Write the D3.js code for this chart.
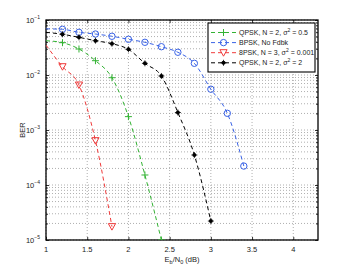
<!DOCTYPE html>
<html>
<head>
<meta charset="utf-8">
<script src="https://d3js.org/d3.v7.min.js"></script>
<style>
  body { margin: 0; background: #fff; }
  text { font-family: "Liberation Sans", Arial, sans-serif; }
</style>
</head>
<body>
<script>
// data (Eb/N0 in dB, BER)
var snrQpsk05 = [1.0, 1.2, 1.4, 1.6, 1.8, 2.0, 2.2, 2.4];
var berQpsk05 = [0.042, 0.0387, 0.0297, 0.0182, 0.00893, 0.00175, 1.52e-4, 1.0e-5];
var snrBpsk = [1.0, 1.2, 1.4, 1.6, 1.8, 2.0, 2.2, 2.4, 2.6, 2.8, 3.0, 3.2, 3.4];
var berBpsk = [0.069, 0.0678, 0.0597, 0.0556, 0.0506, 0.0446, 0.0393, 0.0327, 0.0259, 0.0163, 0.00552, 0.00201, 2.21e-4];
var snrBpsk3 = [1.0, 1.2, 1.4, 1.6, 1.8];
var berBpsk3 = [0.035, 0.01416, 0.00658, 6.4e-4, 1.75e-5];
var snrQpsk2 = [1.0, 1.2, 1.4, 1.6, 1.8, 2.0, 2.2, 2.4, 2.6, 2.8, 3.0];
var berQpsk2 = [0.0597, 0.055, 0.0484, 0.0421, 0.0371, 0.0293, 0.0163, 0.0096, 0.00208, 3.51e-4, 2.21e-5];

var xTicks = [1, 1.5, 2, 2.5, 3, 3.5, 4];
var yTicks = [1e-5, 1e-4, 1e-3, 1e-2, 1e-1];

var W = 351, H = 271;
var margin = {top: 20, right: 33, bottom: 31, left: 46};

var svg = d3.select("body").append("svg")
  .attr("width", W).attr("height", H);

var x = d3.scaleLinear().domain([1, 4.3]).range([margin.left, W - margin.right]);
var y = d3.scaleLog().domain([1e-5, 1e-1]).range([H - margin.bottom, margin.top]);

// minor log positions
var yMinor = [];
for (var e = -5; e < -1; e++) {
  for (var k = 2; k <= 9; k++) yMinor.push(k * Math.pow(10, e));
}

// grid
var grid = svg.append("g").attr("stroke", "#9a9a9a").attr("stroke-width", 0.8)
  .attr("stroke-dasharray", "1,2");
yMinor.concat(yTicks).forEach(function(v) {
  grid.append("line").attr("x1", x(1)).attr("x2", x(4.3))
    .attr("y1", y(v)).attr("y2", y(v));
});
xTicks.forEach(function(v) {
  grid.append("line").attr("x1", x(v)).attr("x2", x(v))
    .attr("y1", y(1e-5)).attr("y2", y(1e-1));
});

// axes, ticks inside
var tl = 3;
var yLeft = d3.axisLeft(y).tickValues(yTicks).tickSize(-tl).tickFormat("");
var yLeftMinor = d3.axisLeft(y).tickValues(yMinor).tickSize(-2).tickFormat("");
var yRight = d3.axisRight(y).tickValues(yTicks).tickSize(-tl).tickFormat("");
var yRightMinor = d3.axisRight(y).tickValues(yMinor).tickSize(-2).tickFormat("");
var xBot = d3.axisBottom(x).tickValues(xTicks).tickSize(-tl).tickFormat("");
var xTop = d3.axisTop(x).tickValues(xTicks).tickSize(-tl).tickFormat("");

function addAxis(ax, tr) {
  var g = svg.append("g").attr("transform", tr).call(ax);
  g.select(".domain").remove();
  g.selectAll("line").attr("stroke", "#000").attr("stroke-width", 0.8);
}
addAxis(yLeft, "translate(" + margin.left + ",0)");
addAxis(yLeftMinor, "translate(" + margin.left + ",0)");
addAxis(yRight, "translate(" + (W - margin.right) + ",0)");
addAxis(yRightMinor, "translate(" + (W - margin.right) + ",0)");
addAxis(xBot, "translate(0," + (H - margin.bottom) + ")");
addAxis(xTop, "translate(0," + margin.top + ")");

svg.append("rect")
  .attr("x", margin.left).attr("y", margin.top)
  .attr("width", W - margin.left - margin.right)
  .attr("height", H - margin.top - margin.bottom)
  .attr("fill", "none").attr("stroke", "#000").attr("stroke-width", 1.3);

// tick labels
svg.append("g").selectAll("text").data(xTicks).enter().append("text")
  .attr("x", function(d) { return x(d); })
  .attr("y", H - margin.bottom + 12)
  .attr("text-anchor", "middle")
  .attr("font-size", 7.5).attr("fill", "#222")
  .text(function(d) { return d; });

var yl = svg.append("g").selectAll("text").data(yTicks).enter().append("text")
  .attr("x", margin.left - 6)
  .attr("y", function(d) { return y(d) + 2.5; })
  .attr("text-anchor", "end")
  .attr("font-size", 7.5).attr("fill", "#222");
yl.append("tspan").text("10");
yl.append("tspan").attr("dy", -4).attr("font-size", 5)
  .text(function(d) { return "\u2212" + Math.round(-Math.log10(d)); });

// axis titles
var xl = svg.append("text")
  .attr("x", (margin.left + W - margin.right) / 2)
  .attr("y", H - margin.bottom + 22)
  .attr("text-anchor", "middle")
  .attr("font-size", 7.5).attr("fill", "#222");
xl.append("tspan").text("E");
xl.append("tspan").attr("dy", 2).attr("font-size", 5.5).text("b");
xl.append("tspan").attr("dy", -2).text("/N");
xl.append("tspan").attr("dy", 2).attr("font-size", 5.5).text("0");
xl.append("tspan").attr("dy", -2).text(" (dB)");

svg.append("text")
  .attr("transform", "translate(25," + ((margin.top + H - margin.bottom) / 2) + ") rotate(-90)")
  .attr("text-anchor", "middle")
  .attr("font-size", 7.5).attr("fill", "#222")
  .text("BER");

// series
var series = [
  {name: "QPSK, N = 2, ", sig: "0.5", xs: snrQpsk05, ys: berQpsk05, color: "#33b333", marker: "plus"},
  {name: "BPSK, No Fdbk", sig: null, xs: snrBpsk, ys: berBpsk, color: "#3a63e6", marker: "circle"},
  {name: "8PSK, N = 3, ", sig: "0.001", xs: snrBpsk3, ys: berBpsk3, color: "#f03a3a", marker: "tri"},
  {name: "QPSK, N = 2, ", sig: "2", xs: snrQpsk2, ys: berQpsk2, color: "#000", marker: "star"}
];

var line = d3.line()
  .x(function(d) { return x(d[0]); })
  .y(function(d) { return y(d[1]); })
  .curve(d3.curveMonotoneX);

svg.append("clipPath").attr("id", "clip").append("rect")
  .attr("x", margin.left).attr("y", margin.top)
  .attr("width", W - margin.left - margin.right)
  .attr("height", H - margin.top - margin.bottom);

var plot = svg.append("g").attr("clip-path", "url(#clip)");

function drawMarker(g, type, color, cx, cy) {
  if (type === "plus") {
    g.append("path").attr("d", "M" + (cx - 3.5) + "," + cy + "h7M" + cx + "," + (cy - 3.5) + "v7")
      .attr("stroke", color).attr("stroke-width", 1).attr("fill", "none");
  } else if (type === "circle") {
    g.append("circle").attr("cx", cx).attr("cy", cy).attr("r", 3.2)
      .attr("fill", "none").attr("stroke", color).attr("stroke-width", 1);
  } else if (type === "tri") {
    g.append("path").attr("d", "M" + (cx - 3.6) + "," + (cy - 3) + "L" + (cx + 3.6) + "," + (cy - 3) + "L" + cx + "," + (cy + 3.5) + "Z")
      .attr("fill", "none").attr("stroke", color).attr("stroke-width", 1);
  } else {
    g.append("circle").attr("cx", cx).attr("cy", cy).attr("r", 2)
      .attr("fill", color);
    g.append("path").attr("d", "M" + (cx - 3) + "," + cy + "h6M" + cx + "," + (cy - 3) + "v6")
      .attr("stroke", color).attr("stroke-width", 0.8);
  }
}

series.forEach(function(s) {
  var pts = s.xs.map(function(v, i) { return [v, s.ys[i]]; });
  plot.append("path").datum(pts)
    .attr("d", line)
    .attr("fill", "none").attr("stroke", s.color)
    .attr("stroke-width", 1).attr("stroke-dasharray", "4,3");
  pts.forEach(function(p) {
    if (p[0] > 1) drawMarker(plot, s.marker, s.color, x(p[0]), y(p[1]));
  });
});

// legend
var lg = svg.append("g");
lg.append("rect").attr("x", 208).attr("y", 23).attr("width", 107).attr("height", 49)
  .attr("fill", "#fff").attr("stroke", "#000").attr("stroke-width", 1.1);
series.forEach(function(s, i) {
  var ry = 32.5 + i * 10.1;
  lg.append("line").attr("x1", 211).attr("x2", 236).attr("y1", ry).attr("y2", ry)
    .attr("stroke", s.color).attr("stroke-width", 1).attr("stroke-dasharray", "4,3");
  drawMarker(lg, s.marker, s.color, 223.5, ry);
  var t = lg.append("text").attr("x", 239).attr("y", ry + 2.5)
    .attr("font-size", 7).attr("fill", "#222");
  t.append("tspan").text(s.name);
  if (s.sig) {
    t.append("tspan").text("\u03c3");
    t.append("tspan").attr("dy", -3).attr("font-size", 5).text("2");
    t.append("tspan").attr("dy", 3).text(" = " + s.sig);
  }
});
</script>
</body>
</html>
